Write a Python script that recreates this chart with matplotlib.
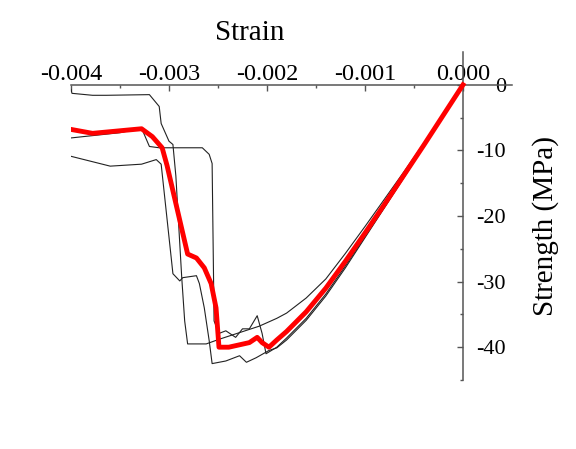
import matplotlib
matplotlib.use("Agg")
import matplotlib.pyplot as plt
from matplotlib.ticker import FixedLocator, FormatStrFormatter

plt.rcParams["font.family"] = ["Liberation Serif", "DejaVu Serif"]
plt.rcParams["axes.unicode_minus"] = False

# Specimen 1
strain_1 = [-0.00400, -0.00399, -0.00378, -0.00364, -0.00320, -0.00310, -0.00308, -0.00300,
            -0.00296, -0.00293, -0.00287, -0.00284, -0.00281, -0.00262, -0.00249, -0.00208,
            -0.00190, -0.00180, -0.00160, -0.00140, -0.00120, -0.00100, -0.00080, -0.00060,
            -0.00040, -0.00020, 0.0]
stress_1 = [-0.7, -1.3, -1.6, -1.6, -1.5, -3.3, -5.9, -8.6,
            -9.1, -13.9, -29.4, -36.0, -39.5, -39.5, -38.8, -36.8,
            -35.6, -34.8, -32.5, -29.6, -25.7, -21.6, -17.4, -13.2,
            -8.9, -4.5, 0.0]

# Specimen 2
strain_2 = [-0.00400, -0.00350, -0.00328, -0.00320, -0.00310, -0.00290, -0.00266, -0.00259,
            -0.00256, -0.00254, -0.00249, -0.00242, -0.00232, -0.00225, -0.00218, -0.00210,
            -0.00205, -0.00201, -0.00190, -0.00180, -0.00160, -0.00140, -0.00120, -0.00100,
            -0.00080, -0.00060, -0.00040, -0.00020, 0.0]
stress_2 = [-8.1, -7.3, -6.6, -9.4, -9.6, -9.6, -9.6, -10.6,
            -12.0, -36.0, -37.9, -37.5, -38.5, -37.2, -37.2, -35.2,
            -37.9, -41.0, -40.0, -38.6, -35.6, -31.9, -27.6, -23.1,
            -18.6, -14.0, -9.3, -4.7, 0.0]

# Specimen 3
strain_3 = [-0.00400, -0.00360, -0.00328, -0.00313, -0.00308, -0.00296, -0.00289, -0.00286,
            -0.00272, -0.00269, -0.00264, -0.00259, -0.00256, -0.00242, -0.00228, -0.00221,
            -0.00211, -0.00198, -0.00190, -0.00180, -0.00160, -0.00140, -0.00120, -0.00100,
            -0.00080, -0.00060, -0.00040, -0.00020, 0.0]
stress_3 = [-10.9, -12.4, -12.1, -11.4, -12.1, -28.8, -29.9, -29.4,
            -29.1, -30.3, -34.0, -39.0, -42.5, -42.1, -41.3, -42.3,
            -41.6, -40.5, -40.1, -38.9, -35.9, -32.2, -27.9, -23.3,
            -18.7, -14.1, -9.4, -4.7, 0.0]

# Average curve
strain_avg = [-0.00400, -0.00378, -0.00328, -0.00317, -0.00307, -0.00302, -0.00281, -0.00272,
              -0.00264, -0.00257, -0.00252, -0.00249, -0.00239, -0.00218, -0.00210, -0.00205,
              -0.00198, -0.00190, -0.00180, -0.00160, -0.00140, -0.00120, -0.00100, -0.00080,
              -0.00060, -0.00040, -0.00020, 0.0]
stress_avg = [-6.8, -7.4, -6.7, -7.9, -9.6, -12.3, -25.8, -26.4,
              -27.9, -30.3, -34.0, -40.0, -40.0, -39.3, -38.5, -39.3,
              -40.0, -38.9, -37.6, -34.6, -31.0, -26.9, -22.6, -18.2,
              -13.7, -9.2, -4.6, 0.0]

x_major = [-0.004, -0.003, -0.002, -0.001, 0.0]
x_minor = [-0.0035, -0.0025, -0.0015, -0.0005]
y_major = [-40, -30, -20, -10, 0]
y_minor = [-45, -35, -25, -15, -5]

fig = plt.figure(figsize=(5.76, 4.49), dpi=100)
ax = fig.add_axes([71 / 576, 1 - 380 / 449, 441 / 576, 328 / 449])

for xs, ys in [(strain_1, stress_1), (strain_2, stress_2), (strain_3, stress_3)]:
    ax.plot(xs, ys, color="#222222", lw=0.8, zorder=2)
ax.plot(strain_avg, stress_avg, color="#ff0000", lw=3.5, zorder=3, solid_joinstyle="round")

ax.set_xlim(-0.004, 0.0005)
ax.set_ylim(-45, 5)

axis_col = "#555555"
ax.spines["left"].set_visible(False)
ax.spines["bottom"].set_visible(False)
ax.spines["top"].set_position(("data", 0))
ax.spines["right"].set_position(("data", 0))
for s in ("top", "right"):
    ax.spines[s].set_color(axis_col)
    ax.spines[s].set_linewidth(1.1)

ax.xaxis.set_ticks_position("top")
ax.xaxis.set_label_position("top")
ax.yaxis.set_ticks_position("right")
ax.yaxis.set_label_position("right")

ax.xaxis.set_major_locator(FixedLocator(x_major))
ax.xaxis.set_minor_locator(FixedLocator(x_minor))
ax.yaxis.set_major_locator(FixedLocator(y_major))
ax.yaxis.set_minor_locator(FixedLocator(y_minor))
ax.xaxis.set_major_formatter(FormatStrFormatter("%.3f"))
ax.yaxis.set_major_formatter(FormatStrFormatter("%d"))

ax.tick_params(axis="both", which="major", direction="in", length=4.5, width=1.0,
               color=axis_col)
ax.tick_params(axis="both", which="minor", direction="in", length=2.5, width=1.0,
               color=axis_col)
ax.tick_params(axis="x", which="major", pad=0, labelsize=17.5)
ax.tick_params(axis="y", which="major", pad=31, labelsize=16)
for lab in ax.get_yticklabels():
    lab.set_horizontalalignment("right")

ax.set_xlabel("Strain", fontsize=21)
ax.xaxis.set_label_coords(0.406, 1.037)
ax.set_ylabel("Strength (MPa)", fontsize=21, rotation=90, va="center")
ax.yaxis.set_label_coords(1.077, 0.470)

ax.patch.set_alpha(0)
fig.savefig("out.png", dpi=100)
